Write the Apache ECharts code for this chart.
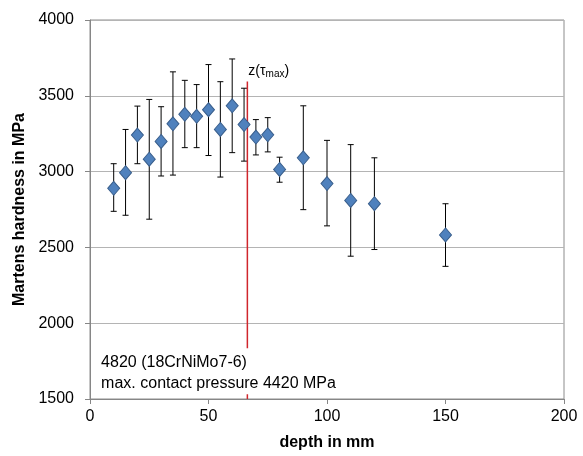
<!DOCTYPE html>
<html>
<head>
<meta charset="utf-8">
<script src="https://cdn.jsdelivr.net/npm/echarts@6/dist/echarts.min.js"></script>
<style>html,body{margin:0;padding:0;background:#fff}#c{width:583px;height:456px}</style>
</head>
<body>
<div id="c"></div>
<script>
var depth    = [10, 15, 20, 25, 30, 35, 40, 45, 50, 55, 60, 65, 70, 75, 80, 90, 100, 110, 120, 150];
var hardness = [2890, 2993, 3241, 3082, 3199, 3315, 3378, 3365, 3408, 3278, 3434, 3310, 3228, 3243, 3014, 3091, 2921, 2810, 2788, 2582];
var errHigh  = [3052, 3278, 3432, 3476, 3428, 3658, 3602, 3574, 3706, 3593, 3743, 3550, 3343, 3356, 3095, 3434, 3206, 3178, 3091, 2788];
var errLow   = [2738, 2712, 3052, 2686, 2971, 2977, 3158, 3158, 3106, 2964, 3125, 3069, 3110, 3130, 2930, 2749, 2642, 2442, 2486, 2375];
var yTicks   = [1500, 2000, 2500, 3000, 3500, 4000];
var xTicks   = [0, 50, 100, 150, 200];
var zTauMax  = [66.4, 3595, 1500];
var noteLines = ['4820 (18CrNiMo7-6)', 'max. contact pressure 4420 MPa'];
var notePos  = [3, 1835];

var FONT = 'Liberation Sans, Arial, sans-serif';
var chart = echarts.init(document.getElementById('c'));

var errData = depth.map(function (d, i) { return [d, errLow[i], errHigh[i]]; });
var ptData = depth.map(function (d, i) { return [d, hardness[i]]; });

chart.setOption({
  animation: false,
  grid: { left: 90, right: 19, top: 20, bottom: 53, show: true, borderColor: '#8c8c8c', borderWidth: 1 },
  xAxis: {
    type: 'value', min: xTicks[0], max: xTicks[xTicks.length - 1], interval: 50,
    name: 'depth in mm', nameLocation: 'middle', nameGap: 36,
    nameTextStyle: { fontFamily: FONT, fontSize: 16, fontWeight: 'bold', color: '#000' },
    axisLine: { lineStyle: { color: '#868686', width: 1 } },
    axisTick: { show: true, inside: false, length: 5, lineStyle: { color: '#868686' } },
    axisLabel: { fontFamily: FONT, fontSize: 16, color: '#000', margin: 10, formatter: function (v) { return String(v); } },
    splitLine: { show: false }
  },
  yAxis: {
    type: 'value', min: yTicks[0], max: yTicks[yTicks.length - 1], interval: 500,
    name: 'Martens hardness in MPa', nameLocation: 'middle', nameGap: 49,
    nameTextStyle: { fontFamily: FONT, fontSize: 16, fontWeight: 'bold', color: '#000' },
    axisLine: { show: true, lineStyle: { color: '#868686', width: 1 } },
    axisTick: { show: true, inside: false, length: 5, lineStyle: { color: '#868686' } },
    axisLabel: { fontFamily: FONT, fontSize: 16, color: '#000', margin: 16, formatter: function (v) { return String(v); } },
    splitLine: { show: true, lineStyle: { color: '#b4b4b4', width: 1 } }
  },
  series: [
    {
      type: 'custom',
      data: errData,
      z: 3,
      renderItem: function (params, api) {
        var x = api.value(0);
        var lo = api.coord([x, api.value(1)]);
        var hi = api.coord([x, api.value(2)]);
        var cw = 3;
        var st = { stroke: '#000', lineWidth: 1 };
        return {
          type: 'group',
          children: [
            { type: 'line', shape: { x1: lo[0], y1: lo[1], x2: hi[0], y2: hi[1] }, style: st },
            { type: 'line', shape: { x1: lo[0] - cw, y1: lo[1], x2: lo[0] + cw, y2: lo[1] }, style: st },
            { type: 'line', shape: { x1: hi[0] - cw, y1: hi[1], x2: hi[0] + cw, y2: hi[1] }, style: st }
          ]
        };
      }
    },
    {
      type: 'custom',
      data: [zTauMax],
      z: 4,
      renderItem: function (params, api) {
        var top = api.coord([api.value(0), api.value(1)]);
        var bot = api.coord([api.value(0), api.value(2)]);
        return {
          type: 'group',
          children: [
            { type: 'line', shape: { x1: top[0], y1: top[1], x2: bot[0], y2: bot[1] }, style: { stroke: '#d0262c', lineWidth: 1.5 } },
            { type: 'text', x: top[0] + 1, y: top[1] - 2, style: {
                text: 'z(τ{s|max})', fontFamily: FONT, fontSize: 14, fill: '#000',
                textAlign: 'left', textVerticalAlign: 'bottom',
                rich: { s: { fontSize: 10, fontFamily: FONT, verticalAlign: 'bottom', padding: [6, 0, 0, 0] } }
              } }
          ]
        };
      }
    },
    {
      type: 'scatter',
      data: ptData,
      symbol: 'diamond',
      symbolSize: [12, 14],
      z: 5,
      itemStyle: { color: '#4f81bd', borderColor: '#3a5f8c', borderWidth: 1, opacity: 1 }
    },
    {
      type: 'custom',
      data: [notePos],
      z: 6,
      renderItem: function (params, api) {
        var p = api.coord([api.value(0), api.value(1)]);
        return {
          type: 'text', x: p[0], y: p[1],
          style: {
            text: noteLines.join('\n'), fontFamily: FONT, fontSize: 16, lineHeight: 21, fill: '#000',
            backgroundColor: '#fff', padding: [4, 4, 0, 4], textAlign: 'left', textVerticalAlign: 'top'
          }
        };
      }
    }
  ]
});
</script>
</body>
</html>
